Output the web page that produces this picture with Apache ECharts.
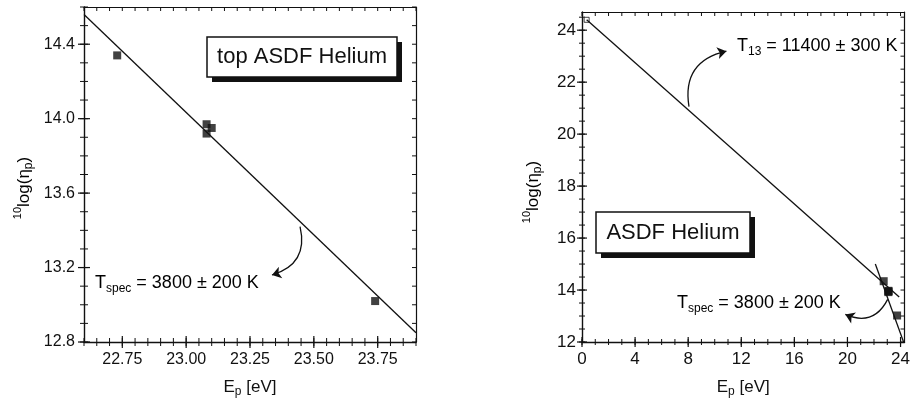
<!DOCTYPE html>
<html>
<head>
<meta charset="utf-8">
<script src="https://cdn.jsdelivr.net/npm/echarts@6/dist/echarts.min.js"></script>
<style>
html, body { margin: 0; padding: 0; background: #fff; }
#chart { width: 913px; height: 404px; }
</style>
</head>
<body>
<div id="chart"></div>
<script>
// measured points, the same set is shown in both panels
var ep = [22.73, 23.08, 23.08, 23.10, 23.74];
var logN = [14.34, 13.97, 13.92, 13.95, 13.02];
// open square near E = 0
var refEp = [0.35];
var refLogN = [24.4];

// fitted lines, [E, log n] end points
var specFitLeft = [[22.6, 14.56], [23.9, 12.85]];
var t13Fit = [[0.35, 24.4], [23.9, 13.73]];
var specFitRight = [[22.1, 15.0], [24.3, 11.9]];

// curved arrows pointing from a fit line to its label
var specArrowLeft = [[23.446, 13.42], [23.336, 13.16]];
var t13Arrow = [[8.06, 21.06], [10.88, 23.19]];
var specArrowRight = [[23.03, 13.64], [19.84, 13.06]];

// tick labels
var leftXTicks = [22.75, 23.00, 23.25, 23.50, 23.75];
var leftYTicks = [12.8, 13.2, 13.6, 14.0, 14.4];
var rightXTicks = [0, 4, 8, 12, 16, 20, 24];
var rightYTicks = [12, 14, 16, 18, 20, 22, 24];

var FONT = "'Liberation Sans', Arial, Helvetica, sans-serif";
var INK = '#111';

var xName = '{n|E}{sub|p}{n| [eV]}';
var yName = '{sup|10}{n|log(η}{sub|p}{n|)}';
var nameRich = {
    n: { fontSize: 17, fontFamily: FONT, color: INK },
    sup: { fontSize: 11, fontFamily: FONT, color: INK, padding: [0, 0, 12, 0] },
    sub: { fontSize: 12, fontFamily: FONT, color: INK, padding: [10, 0, 0, 0] }
};

// main axis (line, labels, name) plus the opposite frame line
function frameAxes(dim, grid, min, max, ticks, fmt, o) {
    var main = {
        type: 'value', gridIndex: grid, position: dim === 'x' ? 'bottom' : 'left',
        min: min, max: max,
        splitLine: { show: false },
        axisLine: { show: true, onZero: false, lineStyle: { color: INK, width: 1.4 } },
        axisTick: { show: false },
        axisLabel: {
            show: true, customValues: ticks, formatter: fmt, margin: o.margin,
            fontSize: o.fontSize, fontFamily: FONT, color: INK
        }
    };
    if (dim === 'x') {
        main.name = xName;
        main.nameLocation = 'middle';
        main.nameGap = o.nameGap;
        main.nameTextStyle = { rich: nameRich };
    }
    var other = {
        type: 'value', gridIndex: grid, position: dim === 'x' ? 'top' : 'right',
        min: min, max: max,
        splitLine: { show: false },
        axisLine: { show: true, onZero: false, lineStyle: { color: INK, width: 1.2 } },
        axisTick: { show: false },
        axisLabel: { show: false }
    };
    return [main, other];
}

function steps(min, max, step) {
    var out = [];
    for (var i = 0; min + i * step <= max + 1e-9; i++) {
        out.push(+(min + i * step).toFixed(4));
    }
    return out;
}

// tick marks drawn through the axis scales; a..b is the pixel span across the axis
function ticks(ax, dim, values, at, a, b, w) {
    return {
        type: 'custom', xAxisIndex: ax, yAxisIndex: ax, silent: true, clip: false,
        data: values.map(function (v) {
            return dim === 'x' ? [v, at] : [at, v];
        }),
        renderItem: function (params, api) {
            var p = api.coord([api.value(0), api.value(1)]);
            var shape = dim === 'x'
                ? { x1: p[0], y1: p[1] + a, x2: p[0], y2: p[1] + b }
                : { x1: p[0] + a, y1: p[1], x2: p[0] + b, y2: p[1] };
            return { type: 'line', shape: shape, style: { stroke: INK, lineWidth: w || 1 } };
        }
    };
}

var xAxes = []
    .concat(frameAxes('x', 0, 22.6, 23.9, leftXTicks, function (v) { return v.toFixed(2); },
        { margin: 10, nameGap: 34, fontSize: 16 }))
    .concat(frameAxes('x', 1, 0, 24.3, rightXTicks, function (v) { return String(v); },
        { margin: 9, nameGap: 34, fontSize: 17 }));
var yAxes = []
    .concat(frameAxes('y', 0, 12.8, 14.6, leftYTicks, function (v) { return v.toFixed(1); },
        { margin: 9, fontSize: 16 }))
    .concat(frameAxes('y', 1, 12, 24.7, rightYTicks, function (v) { return String(v); },
        { margin: 6, fontSize: 17 }));

function points(xs, ys) {
    return xs.map(function (x, i) {
        return [x, ys[i]];
    });
}

function fitLine(data, ax) {
    return {
        type: 'line', xAxisIndex: ax, yAxisIndex: ax, data: data,
        symbol: 'none', silent: true, clip: true,
        lineStyle: { color: INK, width: 1.3 }
    };
}

function arrow(coords, ax) {
    return {
        type: 'lines', coordinateSystem: 'cartesian2d', xAxisIndex: ax, yAxisIndex: ax,
        data: [{ coords: coords }], silent: true,
        symbol: ['none', 'arrow'], symbolSize: 9,
        lineStyle: { color: INK, width: 1.3, curveness: 0.47, opacity: 1 }
    };
}

function squares(data, ax) {
    return {
        type: 'scatter', xAxisIndex: ax, yAxisIndex: ax, data: data,
        symbol: 'rect', symbolSize: 8, silent: true,
        itemStyle: { color: INK }
    };
}

var tRich = {
    t: { fontSize: 18, fontFamily: FONT, color: INK },
    s: { fontSize: 12, fontFamily: FONT, color: INK, padding: [12, 0, 0, 0] }
};

function label(x, y, text) {
    return {
        type: 'text', x: x, y: y, silent: true,
        style: { text: text, rich: tRich, align: 'left', verticalAlign: 'middle' }
    };
}

// rotated y axis title, reads bottom to top
function yTitle(x, y) {
    return {
        type: 'text', x: x, y: y, rotation: Math.PI / 2, silent: true,
        style: { text: yName, rich: nameRich, align: 'center', verticalAlign: 'middle' }
    };
}

function box(x, y, w, h, text) {
    return [
        { type: 'rect', shape: { x: x + 5, y: y + 5, width: w, height: h }, style: { fill: INK }, silent: true },
        { type: 'rect', shape: { x: x, y: y, width: w, height: h }, style: { fill: '#fff', stroke: INK, lineWidth: 1.5 }, silent: true },
        {
            type: 'text', x: x + w / 2, y: y + h / 2, silent: true,
            style: { text: text, font: '22px ' + FONT, fill: INK, align: 'center', verticalAlign: 'middle' }
        }
    ];
}

var chart = echarts.init(document.getElementById('chart'));

var option = {
    backgroundColor: '#fff',
    animation: false,
    grid: [
        { left: 84, right: 497, top: 7, bottom: 62 },
        { left: 582, right: 1, top: 12, bottom: 62 }
    ],
    xAxis: xAxes,
    yAxis: yAxes,
    series: [
        // left panel frame ticks
        ticks(0, 'x', leftXTicks, 12.8, -6, 6, 1.2),
        ticks(0, 'x', steps(22.6, 23.9, 0.05), 12.8, -4, 4),
        ticks(0, 'x', steps(22.6, 23.9, 0.05), 14.6, 0, 4),
        ticks(0, 'y', leftYTicks, 22.6, -6, 6, 1.2),
        ticks(0, 'y', steps(12.8, 14.6, 0.1), 22.6, -4, 4),
        ticks(0, 'y', steps(12.8, 14.6, 0.1), 23.9, -4, 0),
        // right panel frame ticks
        ticks(2, 'x', rightXTicks, 12, -5, 5, 1.2),
        ticks(2, 'x', steps(0, 24, 1), 12, -3, 3),
        ticks(2, 'x', steps(0, 24, 1), 24.7, 0, 4),
        ticks(2, 'y', rightYTicks, 0, -5, 5, 1.2),
        ticks(2, 'y', steps(12, 24.5, 0.5), 0, -3, 3),
        ticks(2, 'y', steps(12, 24.5, 0.5), 24.3, -4, 0),

        fitLine(specFitLeft, 0),
        squares(points(ep, logN), 0),
        arrow(specArrowLeft, 0),
        fitLine(t13Fit, 2),
        fitLine(specFitRight, 2),
        squares(points(ep, logN), 2),
        {
            type: 'scatter', xAxisIndex: 2, yAxisIndex: 2, data: points(refEp, refLogN),
            symbol: 'rect', symbolSize: 5, silent: true,
            itemStyle: { color: '#fff', borderColor: INK, borderWidth: 1 }
        },
        arrow(t13Arrow, 2),
        arrow(specArrowRight, 2)
    ],
    graphic: []
        .concat(box(207, 37, 190, 40, 'top ASDF Helium'))
        .concat(box(596, 212, 154, 41, 'ASDF Helium'))
        .concat([
            yTitle(24, 188),
            yTitle(533, 192),
            label(95, 283, '{t|T}{s|spec}{t| = 3800 ± 200 K}'),
            label(737, 46, '{t|T}{s|13}{t| = 11400 ± 300 K}'),
            label(677, 303, '{t|T}{s|spec}{t| = 3800 ± 200 K}')
        ])
};

chart.setOption(option);
</script>
</body>
</html>
